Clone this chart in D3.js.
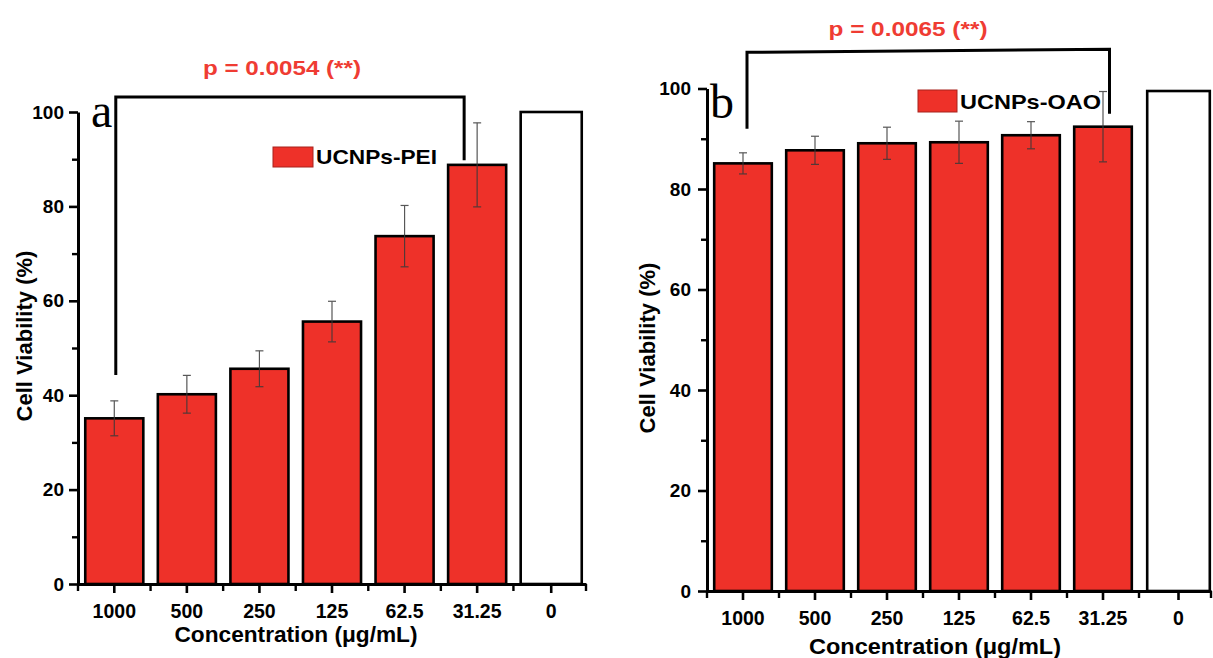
<!DOCTYPE html>
<html>
<head>
<meta charset="utf-8">
<script src="https://cdn.jsdelivr.net/npm/d3@7"></script>
<style>
  html, body { margin: 0; padding: 0; background: #fff; }
  svg { display: block; font-family: "Liberation Sans", Arial, sans-serif; }
</style>
</head>
<body>
<svg id="chart" width="1213" height="658"></svg>
<script>
// ---------- data ----------
const categories = ["1000", "500", "250", "125", "62.5", "31.25", "0"];
const peiValues  = [35.1, 40.2, 45.6, 55.6, 73.7, 88.8, 100];
const peiErrors  = [3.7, 4.0, 3.8, 4.3, 6.5, 8.9, 0];
const oaoValues  = [85.1, 87.7, 89.1, 89.3, 90.7, 92.4, 99.5];
const oaoErrors  = [2.1, 2.8, 3.2, 4.2, 2.7, 7.0, 0];
const yTicks      = [0, 20, 40, 60, 80, 100];
const yMinorTicks = [10, 30, 50, 70, 90];
const seriesNames = ["UCNPs-PEI", "UCNPs-OAO"];
const pTexts      = ["p = 0.0054 (**)", "p = 0.0065 (**)"];
const panelLetters = ["a", "b"];
const xTitle = "Concentration (\u03bcg/mL)";
const yTitle = "Cell Viability (%)";
// bracket values (in % units): top, left end, right end
const bracketA = { from: "1000", to: "31.25", top: 103.2, leftEnd: 44.3, rightEnd: 89.8 };
const bracketB = { from: "1000", to: "31.25", top: 107.2, leftEnd: 92.0, rightEnd: 95.0 };

const RED = "#ee3129";
const PRED = "#ef3c33";
const SANS = "'Liberation Sans', Arial, sans-serif";
const SERIF = "'Liberation Serif', 'Times New Roman', serif";

const svg = d3.select("#chart");

function drawPanel(o) {
  const x = d3.scaleBand().domain(categories).range(o.xRange)
    .paddingInner(0.2).paddingOuter(0.1);
  const y = d3.scaleLinear().domain([0, 100]).range(o.yRange);
  const g = svg.append("g");
  const y0 = o.yRange[0];
  const xL = o.xRange[0];

  const data = categories.map((c, i) => ({ c, v: o.values[i], e: o.errors[i], ctrl: c === "0" }));

  // bars
  g.selectAll("rect.bar").data(data).enter().append("rect")
    .attr("class", "bar")
    .attr("x", d => x(d.c) + (d.ctrl ? o.ctrlShift : 0))
    .attr("y", d => y(d.v))
    .attr("width", d => x.bandwidth() + (d.ctrl ? o.ctrlWiden : 0))
    .attr("height", d => y(0) - y(d.v))
    .attr("fill", d => d.ctrl ? "#fff" : RED)
    .attr("stroke", "#000")
    .attr("stroke-width", 2.6);

  // error bars
  const eb = g.selectAll("g.err").data(data.filter(d => d.e > 0)).enter().append("g")
    .attr("stroke", "#3a3a3a").attr("stroke-width", 1.2).attr("opacity", 0.85);
  const cx = d => x(d.c) + x.bandwidth() / 2;
  eb.append("line").attr("x1", cx).attr("x2", cx)
    .attr("y1", d => y(d.v + d.e)).attr("y2", d => y(d.v - d.e));
  eb.append("line").attr("x1", d => cx(d) - 4).attr("x2", d => cx(d) + 4)
    .attr("y1", d => y(d.v + d.e)).attr("y2", d => y(d.v + d.e));
  eb.append("line").attr("x1", d => cx(d) - 4).attr("x2", d => cx(d) + 4)
    .attr("y1", d => y(d.v - d.e)).attr("y2", d => y(d.v - d.e));

  // y axis
  const yAx = g.append("g").attr("transform", `translate(${xL},0)`)
    .call(d3.axisLeft(y).tickValues(yTicks).tickSize(9).tickSizeOuter(0).tickPadding(o.yPad)
      .tickFormat(d3.format("d")));
  yAx.select(".domain").attr("stroke-width", 3);
  yAx.selectAll(".tick line").attr("stroke-width", 2.6);
  yAx.selectAll("text").style("font-size", "19px").style("font-weight", "bold")
    .style("font-family", SANS).attr("fill", "#000");
  const yMin = g.append("g").attr("transform", `translate(${xL},0)`)
    .call(d3.axisLeft(y).tickValues(yMinorTicks).tickSize(6).tickSizeOuter(0).tickFormat(""));
  yMin.select(".domain").remove();
  yMin.selectAll(".tick line").attr("stroke-width", 2.4);

  // x axis
  const xAx = g.append("g").attr("transform", `translate(0,${y0})`)
    .call(d3.axisBottom(x).tickSize(9).tickSizeOuter(0).tickPadding(11));
  xAx.select(".domain").attr("stroke-width", 3);
  xAx.selectAll(".tick line").attr("stroke-width", 2.6);
  xAx.selectAll(".tick").filter(d => d === "0")
    .attr("transform", `translate(${x("0") + x.bandwidth() / 2 + o.ctrlShift + o.ctrlWiden / 2},0)`);
  xAx.selectAll("text").style("font-size", "19.5px").style("font-weight", "bold")
    .style("font-family", SANS).attr("fill", "#000");
  // minor x ticks at band boundaries
  const step = x.step();
  const bounds = categories.map(c => x(c) - step * 0.1)
    .concat([x(categories[categories.length - 1]) + x.bandwidth() + step * 0.1]);
  g.selectAll("line.xminor").data(bounds).enter().append("line")
    .attr("x1", d => d).attr("x2", d => d)
    .attr("y1", y0).attr("y2", y0 + 7)
    .attr("stroke", "#000").attr("stroke-width", 2.4);

  // axis titles
  g.append("text").attr("x", o.xTitlePos[0]).attr("y", o.xTitlePos[1])
    .attr("text-anchor", "middle").style("font-size", "22px").style("font-weight", "bold")
    .attr("textLength", o.xTitleLen).attr("lengthAdjust", "spacingAndGlyphs")
    .text(xTitle);
  g.append("text").attr("transform", `translate(${o.yTitlePos[0]},${o.yTitlePos[1]}) rotate(-90)`)
    .attr("text-anchor", "middle").style("font-size", "22px").style("font-weight", "bold")
    .text(yTitle);

  // panel letter
  g.append("text").attr("x", o.letterPos[0]).attr("y", o.letterPos[1])
    .style("font-family", SERIF).style("font-size", "48px").style("font-weight", "normal")
    .text(o.letter);

  // legend
  g.append("rect").attr("x", o.legend[0]).attr("y", o.legend[1])
    .attr("width", o.legend[2]).attr("height", o.legend[3])
    .attr("fill", RED).attr("stroke", "#a8231c").attr("stroke-width", 1);
  g.append("text").attr("x", o.legend[0] + o.legend[2] + 3).attr("y", o.legend[1] + o.legend[3] - 3)
    .style("font-size", "21px").style("font-weight", "bold")
    .attr("textLength", o.legendLen).attr("lengthAdjust", "spacingAndGlyphs")
    .text(o.name);

  // significance bracket
  const b = o.bracket;
  const lx = x(b.from) + x.bandwidth() / 2 + o.bracketDx[0];
  const rx = x(b.to) + x.bandwidth() / 2 + o.bracketDx[1];
  g.append("path")
    .attr("d", `M${lx},${y(b.leftEnd)} L${lx},${y(b.top)} L${rx},${y(b.top) - o.bracketTilt} L${rx},${y(b.rightEnd)}`)
    .attr("fill", "none").attr("stroke", "#000").attr("stroke-width", 3);

  // p value
  g.append("text").attr("x", o.pPos[0]).attr("y", o.pPos[1])
    .attr("text-anchor", "middle").style("font-size", "21px").style("font-weight", "bold")
    .attr("fill", PRED)
    .attr("textLength", o.pLen).attr("lengthAdjust", "spacingAndGlyphs")
    .text(o.p);
}

drawPanel({
  values: peiValues, errors: peiErrors, name: seriesNames[0], p: pTexts[0], letter: panelLetters[0],
  xRange: [78, 586], yRange: [584, 112], ctrlShift: 0, ctrlWiden: 3, yPad: 5,
  xTitlePos: [296, 642], xTitleLen: 243, yTitlePos: [32, 336], letterPos: [91, 127],
  legend: [273, 147, 40, 20], legendLen: 121,
  bracket: bracketA, bracketDx: [1.5, -13], bracketTilt: 0,
  pPos: [282, 75], pLen: 158
});

drawPanel({
  values: oaoValues, errors: oaoErrors, name: seriesNames[1], p: pTexts[1], letter: panelLetters[1],
  xRange: [707, 1211], yRange: [591, 88.5], ctrlShift: 1, ctrlWiden: 5, yPad: 7,
  xTitlePos: [935, 654], xTitleLen: 252, yTitlePos: [655, 348], letterPos: [710, 118],
  legend: [918, 90, 39, 22], legendLen: 141,
  bracket: bracketB, bracketDx: [4, 6.5], bracketTilt: 3,
  pPos: [908, 36], pLen: 159
});
</script>
</body>
</html>
